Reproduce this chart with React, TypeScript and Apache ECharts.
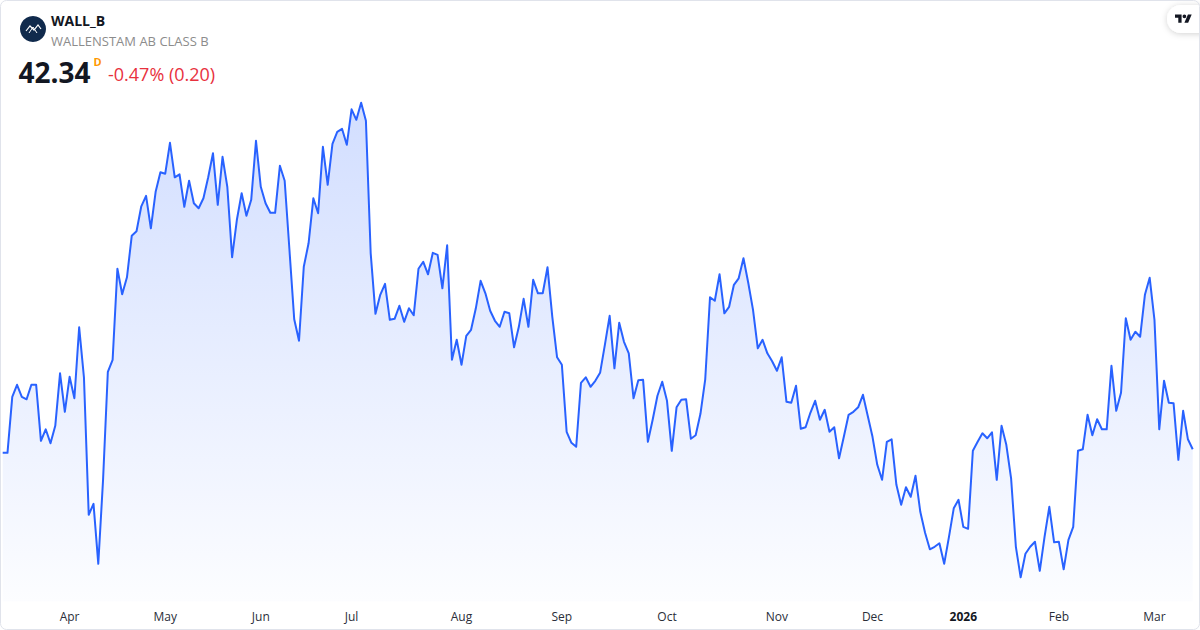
import React, { useEffect, useRef } from "react";
import * as echarts from "echarts";

// Daily closes, WALL_B (SEK), 2025-03-12 .. 2026-03-12
const closes: number[] = [
  42.27, 42.27, 43.39, 43.63, 43.39, 43.34, 43.63, 43.63, 42.51, 42.74,
  42.46, 42.81, 43.86, 43.09, 43.79, 43.36, 44.78, 43.78, 41.03, 41.25,
  40.05, 41.73, 43.89, 44.13, 45.95, 45.44, 45.78, 46.61, 46.70, 47.20,
  47.41, 46.76, 47.49, 47.88, 47.85, 48.47, 47.78, 47.84, 47.19, 47.71,
  47.26, 47.16, 47.36, 47.78, 48.26, 47.23, 48.19, 47.59, 46.18, 46.93,
  47.46, 47.01, 47.33, 48.51, 47.59, 47.26, 47.07, 47.07, 48.01, 47.71,
  46.33, 44.94, 44.51, 45.99, 46.46, 47.36, 47.06, 48.39, 47.63, 48.45,
  48.69, 48.75, 48.43, 49.14, 48.93, 49.27, 48.91, 46.26, 45.05, 45.43,
  45.65, 44.93, 44.95, 45.21, 44.89, 45.16, 45.02, 45.95, 46.09, 45.84,
  46.27, 46.23, 45.56, 46.42, 44.13, 44.53, 44.03, 44.61, 44.73, 45.16,
  45.71, 45.46, 45.11, 44.91, 44.79, 45.09, 45.06, 44.38, 44.79, 45.35,
  44.79, 45.73, 45.46, 45.46, 45.98, 44.99, 44.18, 44.03, 42.69, 42.47,
  42.39, 43.67, 43.78, 43.59, 43.71, 43.87, 44.43, 45.01, 43.96, 44.87,
  44.49, 44.26, 43.36, 43.72, 43.73, 42.49, 42.93, 43.41, 43.69, 43.31,
  42.31, 43.18, 43.33, 43.34, 42.55, 42.62, 43.05, 43.74, 45.38, 45.31,
  45.84, 45.06, 45.19, 45.63, 45.76, 46.16, 45.67, 45.13, 44.36, 44.53,
  44.26, 44.10, 43.91, 44.18, 43.29, 43.27, 43.61, 42.75, 42.78, 43.07,
  43.31, 42.93, 43.13, 42.69, 42.78, 42.16, 42.59, 43.03, 43.09, 43.18,
  43.43, 43.01, 42.59, 42.03, 41.73, 42.49, 42.54, 41.63, 41.23, 41.58,
  41.39, 41.81, 41.09, 40.67, 40.34, 40.39, 40.46, 40.05, 40.59, 41.16,
  41.33, 40.79, 40.75, 42.31, 42.49, 42.66, 42.56, 42.68, 41.73, 42.81,
  42.43, 41.76, 40.39, 39.78, 40.25, 40.39, 40.49, 39.91, 40.59, 41.19,
  40.48, 40.49, 39.94, 40.53, 40.79, 42.31, 42.34, 43.03, 42.62, 42.94,
  42.74, 42.74, 44.01, 43.11, 43.47, 44.96, 44.53, 44.69, 44.59, 45.43,
  45.77, 44.93, 42.74, 43.71, 43.27, 43.26, 42.13, 43.11, 42.54, 42.34,
];

const startDate = "2025-03-12";
const marketHolidays = [
  "2025-04-18", "2025-04-21", "2025-05-01", "2025-05-29", "2025-06-06",
  "2025-06-20", "2025-12-24", "2025-12-25", "2025-12-26", "2025-12-31",
  "2026-01-01", "2026-01-06",
];
const monthNames = ["2026", "Feb", "Mar", "Apr", "May", "Jun", "Jul", "Aug", "Sep", "Oct", "Nov", "Dec"];

const header = {
  ticker: "WALL_B",
  name: "WALLENSTAM AB CLASS B",
  last: "42.34",
  interval: "D",
  change: "-0.47% (0.20)",
};

function tradingDays(start: string, count: number): string[] {
  const out: string[] = [];
  const hol = new Set(marketHolidays);
  const [y, m, d] = start.split("-").map(Number);
  let t = Date.UTC(y, m - 1, d);
  while (out.length < count) {
    const dt = new Date(t);
    const wd = dt.getUTCDay();
    const s = dt.toISOString().slice(0, 10);
    if (wd !== 0 && wd !== 6 && !hol.has(s)) out.push(s);
    t += 86400000;
  }
  return out;
}

const dates = tradingDays(startDate, closes.length);

const TV_LOGO =
  "M14 22H7V11H0V4h14v18zM28 22h-8l7.5-18h8L28 22zM20 4a4 4 0 1 1 0 8a4 4 0 1 1 0-8z";
let registered = false;
function ensureShapes() {
  if (registered) return;
  echarts.graphic.registerShape("tvlogo", echarts.graphic.extendPath(TV_LOGO, {}) as any);
  registered = true;
}

export default function App() {
  const ref = useRef<HTMLDivElement>(null);
  useEffect(() => {
    if (!ref.current) return;
    ensureShapes();
    const chart = echarts.init(ref.current, undefined, { renderer: "svg" });
    const font = "'Open Sans', 'Noto Sans', sans-serif";
    const monthStart = (i: number) =>
      i > 0 && dates[i].slice(5, 7) !== dates[i - 1].slice(5, 7);
    chart.setOption({
      animation: false,
      backgroundColor: "#ffffff",
      textStyle: { fontFamily: font },
      grid: { left: 2.7, right: 7.3, top: 91.3, bottom: 28.7, containLabel: false },
      xAxis: {
        type: "category",
        data: dates,
        boundaryGap: false,
        axisLine: { show: false },
        axisTick: { show: false },
        splitLine: { show: false },
        axisLabel: {
          interval: (i: number) => monthStart(i),
          hideOverlap: false,
          margin: 9,
          fontSize: 12,
          color: "#2a2e39",
          fontFamily: font,
          formatter: (v: string) => {
            const m = Number(v.slice(5, 7));
            const name = monthNames[m - 1];
            return m === 1 ? "{b|" + v.slice(0, 4) + "}" : name;
          },
          rich: { b: { fontWeight: "bold", fontSize: 12, color: "#131722", fontFamily: font } },
        },
      },
      yAxis: {
        type: "value",
        min: 39.3,
        max: 49.5,
        show: false,
        splitLine: { show: false },
      },
      series: [
        {
          type: "line",
          data: closes,
          symbol: "none",
          lineStyle: { color: "#2962ff", width: 2, join: "round" },
          areaStyle: {
            color: new echarts.graphic.LinearGradient(0, 0, 0, 1, [
              { offset: 0, color: "rgba(41,98,255,0.30)" },
              { offset: 1, color: "rgba(41,98,255,0.02)" },
            ]),
          },
        },
      ],
      graphic: [
        {
          type: "rect",
          shape: { x: 0.5, y: 0.5, width: 1199, height: 629, r: 6 },
          style: { fill: "none", stroke: "#e0e3eb", lineWidth: 1 },
          z: 100,
        },
        {
          type: "circle",
          shape: { cx: 33, cy: 29, r: 13 },
          style: { fill: "#102a4c" },
        },
        {
          type: "polyline",
          shape: { points: [[26, 31], [30, 26], [34, 30], [38, 25], [41, 29]] },
          style: { stroke: "#ffffff", lineWidth: 1.2, fill: "none" },
        },
        {
          type: "polyline",
          shape: { points: [[29, 33], [33, 27], [37, 33]] },
          style: { stroke: "#ffffff", lineWidth: 1, fill: "none" },
        },
        {
          type: "text",
          x: 51,
          y: 20,
          style: {
            text: header.ticker,
            fontFamily: font,
            fontSize: 14,
            fontWeight: "bold",
            fill: "#131722",
            verticalAlign: "middle",
          },
        },
        {
          type: "text",
          x: 51,
          y: 41,
          style: {
            text: header.name,
            fontFamily: font,
            fontSize: 13,
            fill: "#8c8c8c",
            verticalAlign: "middle",
          },
        },
        {
          type: "text",
          x: 18.5,
          y: 72,
          style: {
            text: header.last,
            fontFamily: font,
            fontSize: 28,
            fontWeight: "bold",
            fill: "#131722",
            verticalAlign: "middle",
          },
        },
        {
          type: "text",
          x: 93.5,
          y: 61,
          style: {
            text: header.interval,
            fontFamily: font,
            fontSize: 11,
            fontWeight: "bold",
            fill: "#ff9800",
            verticalAlign: "middle",
          },
        },
        {
          type: "text",
          x: 108,
          y: 74,
          style: {
            text: header.change,
            fontFamily: font,
            fontSize: 18,
            fill: "#e8313e",
            verticalAlign: "middle",
          },
        },
        {
          type: "rect",
          shape: { x: 1167, y: 5, width: 50, height: 28, r: 14 },
          style: { fill: "#ffffff", shadowBlur: 6, shadowColor: "rgba(0,0,0,0.18)", shadowOffsetY: 1 },
          z: 50,
        },
        {
          type: "tvlogo",
          x: 1175,
          y: 12.5,
          scaleX: 0.47,
          scaleY: 0.47,
          style: { fill: "#131722" },
          z: 51,
        },
      ],
    });
    return () => chart.dispose();
  }, []);
  return (
    <div
      ref={ref}
      style={{ position: "absolute", left: 0, top: 0, width: 1200, height: 630, background: "#fff" }}
    />
  );
}
